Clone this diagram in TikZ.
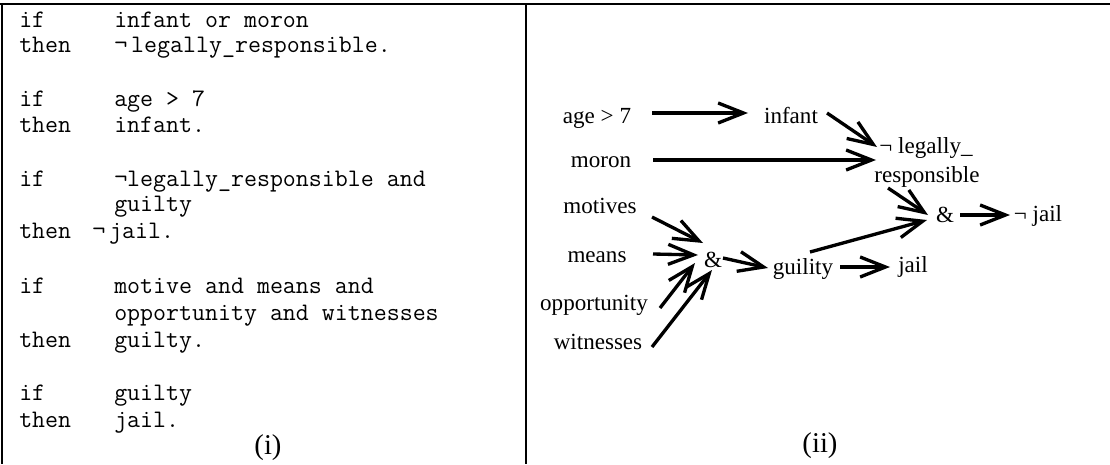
\documentclass[tikz,border=0pt]{standalone}
\usepackage{fontspec}
\setmainfont{Liberation Serif}
\usetikzlibrary{arrows.meta}
\tikzset{
  % program text of the left panel
  codeline/.style={anchor=base west, inner sep=0pt,
                   font=\ttfamily\fontsize{18.9}{20}\selectfont},
  % labels of the inference net
  fact/.style={anchor=base, inner sep=0pt, font=\fontsize{17.3}{20}\selectfont},
  % panel caption
  caption/.style={anchor=base, inner sep=0pt, font=\fontsize{21.5}{24}\selectfont},
  % frame lines
  frameline/.style={line width=1.9pt},
  % barbed arrows
  arr/.style={-{Straight Barb[length=19pt,width=15pt]}, line width=2.5pt},
}

\begin{document}
\begin{tikzpicture}[x=0.75pt,y=-0.75pt]
    \useasboundingbox (0,0) rectangle (1110,464);

    %% -- Frame ------------------------------------------------
    \draw[frameline] (0,4) -- (1110,4);
    \draw[frameline] (2,4) -- (2,464);
    \draw[frameline] (526,4) -- (526,464);

    %% -- (i) program ------------------------------------------
    \foreach \kw/\yy [count=\n] in {if/27, then/52, if/106, then/132, if/186,
                                    then/238, if/293, then/347, if/400, then/427}
      \node[codeline] (kw\n) at (19,\yy) {\kw};
    \foreach \txt/\xx/\yy [count=\n] in {
        infant or moron/114/27,
        ¬\hspace{3pt}legally\_responsible./114/52,
        age > 7/114/106,
        infant./114/132,
        ¬legally\_responsible and/114/186,
        guilty/114/211,
        ¬\hspace{3pt}jail./92/238,
        motive and means and/114/293,
        opportunity and witnesses/114/320,
        guilty./114/347,
        guilty/114/400,
        jail./114/427}
      \node[codeline] (body\n) at (\xx,\yy) {\txt};
    \node[caption] (capi) at (268,454) {(i)};

    %% -- (ii) inference net -----------------------------------
    \node[fact] (age)     at (597,123) {age > 7};
    \node[fact] (moron)   at (601,167) {moron};
    \node[fact] (motives) at (600,213) {motives};
    \node[fact] (means)   at (597,262) {means};
    \node[fact] (oppty)   at (594,310) {opportunity};
    \node[fact] (witness) at (598,349) {witnesses};

    \node[fact] (infant)  at (791,123) {infant};
    \node[fact] (legalA)  at (926,153) {¬ legally\_};
    \node[fact] (legalB)  at (927,182) {responsible};
    \node[fact] (andA)    at (945,222) {\&};
    \node[fact] (notjail) at (1038,221) {¬ jail};

    \node[fact] (andB)    at (713,267) {\&};
    \node[fact] (guilty)  at (803,274) {guility};
    \node[fact] (jail)    at (913,272) {jail};

    \node[caption] (capii) at (820,452) {(ii)};

    %% -- Arrows -----------------------------------------------
    \draw[arr] ([shift={(55,-10)}]age.base)    -- ([shift={(-43,-10)}]infant.base);
    \draw[arr] ([shift={(52,-7)}]moron.base)   -- ([shift={(-50,7)}]legalA.base);
    \draw[arr] ([shift={(36,-10)}]infant.base) -- ([shift={(-49,-6)}]legalA.base);
    \draw[arr] ([shift={(-39,6)}]legalB.base)  -- ([shift={(-17,-7)}]andA.base);
    \draw[arr] ([shift={(7,-22)}]guilty.base)  -- ([shift={(-18,-2)}]andA.base);
    \draw[arr] ([shift={(15,-7)}]andA.base)    -- ([shift={(-28,-6)}]notjail.base);
    \draw[arr] ([shift={(37,-7)}]guilty.base)  -- ([shift={(-23,-5)}]jail.base);

    \draw[arr] ([shift={(52,4)}]motives.base)  -- ([shift={(-10,-24)}]andB.base);
    \draw[arr] ([shift={(56,-8)}]means.base)   -- ([shift={(-15,-12)}]andB.base);
    \draw[arr] ([shift={(66,-2)}]oppty.base)   -- ([shift={(-18,-4)}]andB.base);
    \draw[arr] ([shift={(54,-2)}]witness.base) -- ([shift={(-1,3)}]andB.base);
    \draw[arr] ([shift={(10,-9)}]andB.base)    -- ([shift={(-35,-6)}]guilty.base);

  \end{tikzpicture}
\end{document}
